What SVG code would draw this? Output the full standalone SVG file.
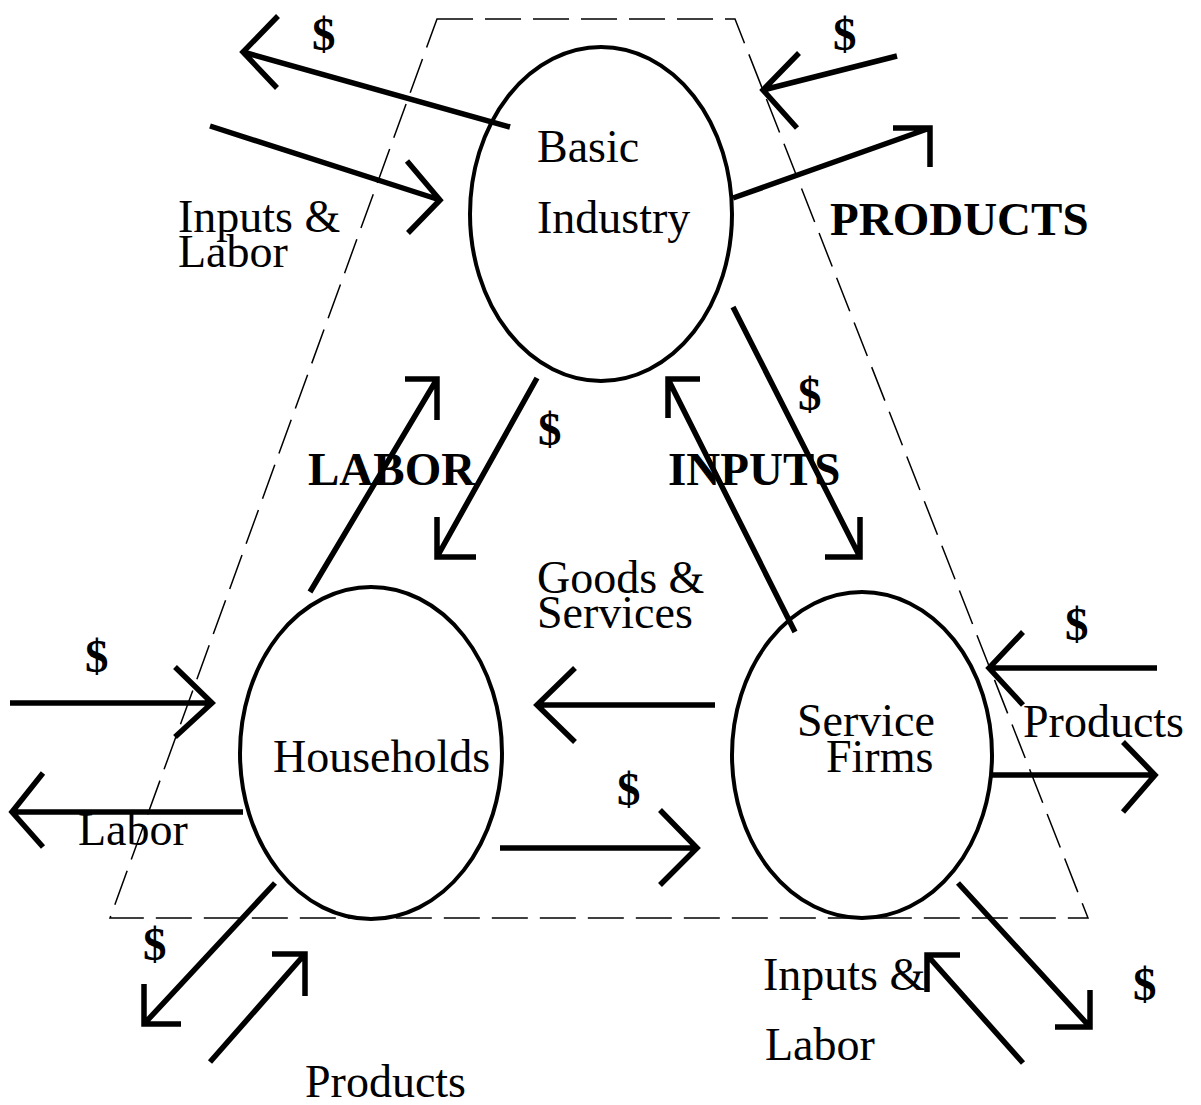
<svg xmlns="http://www.w3.org/2000/svg" width="1201" height="1105" viewBox="0 0 1201 1105">
<style>
.bg{fill:#fff}
.node{fill:none;stroke:#000;stroke-width:4}
.t{font-family:"Liberation Serif","Times New Roman",serif;font-size:46px;fill:#000}
.b{font-family:"Liberation Serif","Times New Roman",serif;font-size:47px;font-weight:bold;fill:#000}
.a{fill:none;stroke:#000;stroke-width:5.5;stroke-linejoin:miter;stroke-linecap:butt}
.dash{fill:none;stroke:#000;stroke-width:1.5;stroke-dasharray:36 12}
</style>
<rect class="bg" x="0" y="0" width="1201" height="1105"/>
<g id="boundary">
<polygon class="dash" points="437,19 735,19 1088,918 110,918"/>
</g>
<g id="basic-industry">
<ellipse class="node" cx="601" cy="214" rx="131" ry="167"/>
<text class="t" x="537" y="162">Basic</text>
<text class="t" x="537" y="233">Industry</text>
</g>
<g id="households">
<ellipse class="node" cx="371" cy="753" rx="131" ry="166"/>
<text class="t" x="273" y="772">Households</text>
</g>
<g id="service-firms">
<ellipse class="node" cx="862" cy="755" rx="130" ry="163"/>
<text class="t" x="797" y="736">Service</text>
<text class="t" x="826" y="772">Firms</text>
</g>
<g id="connectors">
<path class="a" d="M510,127 L243,52 M278,16 L243,52 L277,88"/>
<path class="a" d="M210,126 L440,200 M407,161 L440,200 L408,233"/>
<path class="a" d="M897,56 L763,90 M799,53 L763,90 L797,128"/>
<path class="a" d="M733,198 L930,128 M893,128 L930,128 L930,167"/>
<path class="a" d="M537,378 L437,557 M437,517 L437,557 L476,557"/>
<path class="a" d="M310,592 L437,379 M405,379 L437,379 L437,420"/>
<path class="a" d="M795,632 L668,379 M700,379 L668,379 L668,418"/>
<path class="a" d="M733,307 L860,557 M860,517 L860,557 L825,557"/>
<path class="a" d="M715,705 L537,705 M575,668 L537,705 L575,742"/>
<path class="a" d="M500,848 L697,848 M660,810 L697,848 L660,885"/>
<path class="a" d="M10,703 L212,703 M175,667 L212,703 L175,737"/>
<path class="a" d="M243,812 L12,812 M43,773 L12,812 L43,847"/>
<path class="a" d="M1157,668 L989,668 M1023,632 L989,668 L1023,705"/>
<path class="a" d="M992,775 L1155,775 M1123,742 L1155,775 L1123,812"/>
<path class="a" d="M275,883 L144,1024 M144,984 L144,1024 L181,1024"/>
<path class="a" d="M210,1062 L305,954 M272,954 L305,954 L305,996"/>
<path class="a" d="M958,883 L1090,1027 M1090,990 L1090,1027 L1055,1027"/>
<path class="a" d="M1023,1063 L927,955 M960,955 L927,955 L927,992"/>
</g>
<g id="labels">
<text class="b" x="312" y="50">$</text>
<text class="b" x="833" y="50">$</text>
<text class="t" x="178" y="232">Inputs &amp;</text>
<text class="t" x="178" y="267">Labor</text>
<text class="b" x="830" y="235">PRODUCTS</text>
<text class="b" x="538" y="445">$</text>
<text class="b" x="798" y="410">$</text>
<text class="b" x="308" y="485">LABOR</text>
<text class="b" x="668" y="485">INPUTS</text>
<text class="t" x="537" y="593">Goods &amp;</text>
<text class="t" x="537" y="628">Services</text>
<text class="b" x="85" y="672">$</text>
<text class="t" x="78" y="845">Labor</text>
<text class="b" x="617" y="805">$</text>
<text class="b" x="1065" y="640">$</text>
<text class="t" x="1023" y="737">Products</text>
<text class="b" x="143" y="960">$</text>
<text class="t" x="305" y="1097">Products</text>
<text class="t" x="763" y="990">Inputs &amp;</text>
<text class="t" x="765" y="1060">Labor</text>
<text class="b" x="1133" y="1000">$</text>
</g>
</svg>
